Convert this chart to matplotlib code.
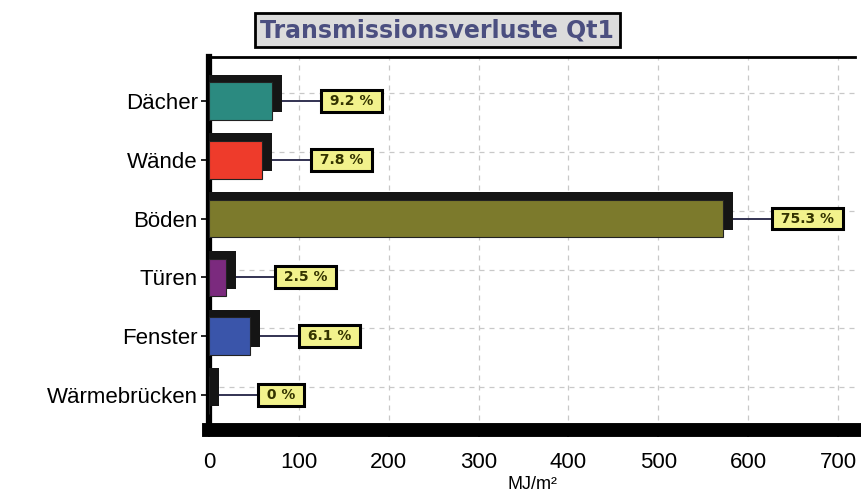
import matplotlib.pyplot as plt
from matplotlib.ticker import MultipleLocator

plt.rcParams['font.family'] = ['Liberation Sans', 'DejaVu Sans']

categories = ['Dächer', 'Wände', 'Böden', 'Türen', 'Fenster', 'Wärmebrücken']
values = [70, 59, 572, 19, 46, 0]
percent_labels = ['9.2 %', '7.8 %', '75.3 %', '2.5 %', '6.1 %', '0 %']
colors = ['#2b8a80', '#ee3b2b', '#7c7a2c', '#7b2a7e', '#3a55aa', '#111111']

fig = plt.figure(figsize=(8.61, 4.95), dpi=100)
ax = fig.add_axes([0.2427, 0.131, 0.7504, 0.754])

ypos = list(range(len(categories)))
h = 0.64
depth_x = 11
depth_y = 0.13

ax.barh([y - depth_y for y in ypos], [v + depth_x for v in values], height=h,
        color='#151515', zorder=3)
ax.barh(ypos, values, height=h, color=colors, edgecolor='#222222',
        linewidth=0.8, zorder=4)

for y, v, lab in zip(ypos, values, percent_labels):
    end = v + depth_x
    ax.plot([end, end + 46], [y, y], color='#222244', lw=1.3, zorder=2)
    ax.text(end + 48, y, ' ' + lab + ' ', ha='left', va='center', fontsize=10,
            family='DejaVu Sans', fontweight='bold', color='#333300', zorder=5,
            bbox=dict(boxstyle='square,pad=0.28', fc='#f2f28c', ec='black', lw=2.2))

ax.set_xlim(0, 719)
ax.set_ylim(5.6, -0.75)
ax.set_yticks(ypos)
ax.set_yticklabels(categories, fontsize=16)
ax.xaxis.set_major_locator(MultipleLocator(100))
ax.xaxis.set_minor_locator(MultipleLocator(20))
ax.tick_params(axis='x', labelsize=16, length=5, width=1.2, pad=11)
ax.tick_params(axis='x', which='minor', length=3)
ax.tick_params(axis='y', length=6, width=1.2, pad=2)
ax.set_xlabel('MJ/m²', fontsize=13, labelpad=2)

ax.grid(True, axis='x', ls=(0, (4, 4)), color='#c8c8c8', lw=0.9, zorder=0)
ax.hlines([y - depth_y for y in ypos], 0, 719, colors='#c8c8c8',
          linestyles=(0, (4, 4)), lw=0.9, zorder=0)
ax.set_axisbelow(True)

ax.spines['left'].set_linewidth(4.5)
ax.spines['bottom'].set_linewidth(10)
ax.spines['top'].set_linewidth(2)
ax.spines['right'].set_visible(False)

fig.text(0.508, 0.939, 'Transmissionsverluste Qt1', ha='center', va='center',
         fontsize=17, family='DejaVu Sans', fontweight='bold', color='#4b4f80',
         bbox=dict(boxstyle='square,pad=0.22', fc='#dcdcdc', ec='black', lw=2))

fig.savefig('out.png', dpi=100)
